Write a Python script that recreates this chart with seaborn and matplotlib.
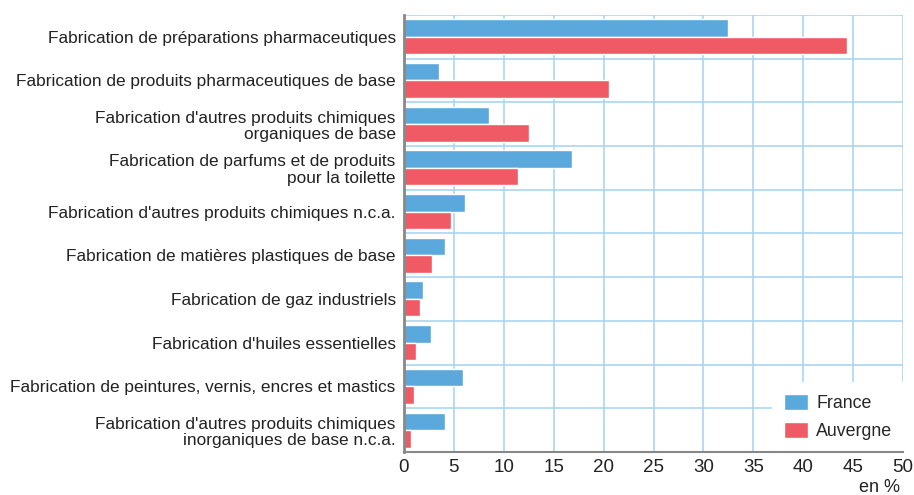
import matplotlib
matplotlib.use("Agg")
import matplotlib.pyplot as plt
import seaborn as sns
import pandas as pd

categories = [
    "Fabrication de préparations pharmaceutiques",
    "Fabrication de produits pharmaceutiques de base",
    "Fabrication d'autres produits chimiques\norganiques de base",
    "Fabrication de parfums et de produits\npour la toilette",
    "Fabrication d'autres produits chimiques n.c.a.",
    "Fabrication de matières plastiques de base",
    "Fabrication de gaz industriels",
    "Fabrication d'huiles essentielles",
    "Fabrication de peintures, vernis, encres et mastics",
    "Fabrication d'autres produits chimiques\ninorganiques de base n.c.a.",
]
france = [32.5, 3.5, 8.5, 16.8, 6.1, 4.1, 1.9, 2.7, 5.9, 4.1]
auvergne = [44.4, 20.5, 12.5, 11.4, 4.7, 2.8, 1.6, 1.2, 1.0, 0.7]
series = ["France", "Auvergne"]
xticks = [0, 5, 10, 15, 20, 25, 30, 35, 40, 45, 50]

df = pd.DataFrame({
    "cat": categories * 2,
    "val": france + auvergne,
    "serie": ["France"] * len(categories) + ["Auvergne"] * len(categories),
})

sns.set_theme(style="white")
plt.rcParams["font.family"] = ["Liberation Sans", "DejaVu Sans"]

fig = plt.figure(figsize=(9.14, 4.95), dpi=100)
ax = fig.add_axes([0.442, 0.087, 0.546, 0.883])

palette = {"France": "#5AA8DC", "Auvergne": "#EF5A64"}
sns.barplot(data=df, y="cat", x="val", hue="serie", hue_order=series,
            order=categories, palette=palette, orient="h", width=0.8,
            saturation=1, ax=ax, zorder=3)

gridc = "#A9D5F2"
ax.set_xlim(0, 50)
ax.set_ylim(len(categories) - 0.5, -0.5)
ax.set_xticks(xticks)
ax.set_xticklabels([str(t) for t in xticks], fontsize=13.5, color="#222222")
for x in xticks[1:]:
    ax.axvline(x, color=gridc, lw=1.2, zorder=1)
for i in range(len(categories) + 1):
    ax.axhline(i - 0.5, color=gridc, lw=1.2, zorder=1)

ax.tick_params(axis="y", length=0, pad=6, labelsize=12.45, labelcolor="#222222")
ax.tick_params(axis="x", length=0, pad=5)
for lab in ax.get_yticklabels():
    lab.set_horizontalalignment("right")
    lab.set_multialignment("right")
    lab.set_linespacing(1.12)
ax.set_xlabel("")
ax.set_ylabel("")
for s in ["top", "right"]:
    ax.spines[s].set_visible(False)
ax.spines["left"].set_color("#888888")
ax.spines["left"].set_linewidth(2)
ax.spines["bottom"].set_color("#888888")
ax.spines["bottom"].set_linewidth(1.5)
ax.spines["left"].set_zorder(7)
ax.spines["bottom"].set_zorder(7)

leg = ax.legend(loc="lower right", bbox_to_anchor=(1.012, -0.012), frameon=True,
                fontsize=12.8, handlelength=1.35, handleheight=1.0,
                borderpad=0.7, borderaxespad=0.25, labelspacing=0.55,
                handletextpad=0.45)
leg.get_frame().set_facecolor("white")
leg.get_frame().set_edgecolor("white")
leg.get_frame().set_alpha(1)
leg.get_frame().set_boxstyle("square", pad=0)
leg.set_zorder(6)

fig.text(0.985, -0.002, "en %", ha="right", va="bottom", fontsize=13, color="#222222")

fig.savefig("out.png", dpi=100)
